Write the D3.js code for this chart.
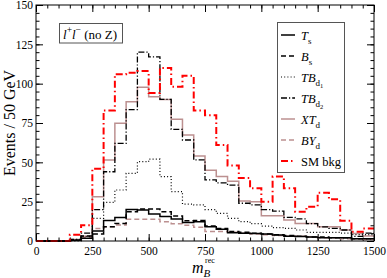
<!DOCTYPE html>
<html><head><meta charset="utf-8">
<script src="https://cdn.jsdelivr.net/npm/d3@7"></script>
<style>
body{margin:0;background:#fff;}
svg{display:block;}
svg text{font-family:"Liberation Serif","Times New Roman",serif;}
</style></head>
<body><svg id="c" width="387" height="278"></svg>
<script>
const binStarts = [0,50,100,150,200,250,300,350,400,450,500,550,600,650,700,750,800,850,900,950,1000,1050,1100,1150,1200,1250,1300,1350,1400,1450];
const binEnd = 1500;
const xTicks = [0,250,500,750,1000,1250,1500];
const yTicks = [0,25,50,75,100,125,150];

const Ts   = [0,0,0,0.5,1.7,6.4,13,15,20,19.7,17.2,15.5,14,11.7,12.3,9.1,7.4,5.3,5,4.8,4.4,3.8,3,2.8,2.5,2,2,2,1.5,1.5];
const Bs   = [0,0,0,0.5,3.2,4.5,9,11.2,18.6,20.3,20.3,18.6,15.9,12.9,13,9.5,8,6,5.5,5,4.5,4,3.5,3,2.5,2.5,2,2,1.5,1.5];
const TBd1 = [0,0,0,0,3,14.4,24.5,32.4,43,50.4,52,40.9,31.4,23.5,22.9,20,17.6,14.4,12.3,11,9.5,8.5,8,7,5.5,5.5,5.5,5,4,4];
const TBd2 = [0,0,0,1,5,20,44,62,83.5,120,117,90,71,64.2,51.5,38.8,37,35.5,24,23,20,19,15,14,11,9,8,7,3,5];
const XTd  = [0,0,0,1,3,28.2,51.5,74.8,88.5,97.7,91.7,90,77.4,67.4,54,45,41,38,25.5,25,16,16,13.3,11.2,11.2,9,9,7,4.8,3.2];
const BYd  = [0,0,0,0.5,2,8,9,10.2,13.8,13.8,13.8,12.3,11,10,8.7,6,6,5.5,5,4.5,4,3.5,3,3,2.5,2,2,1.5,1.5,1];
const SM   = [0,0,0,4,10,46,83,106,107,108,94,110,98,105,83,80,61,48,40,33.5,25,41,33.5,18.6,21.8,30.7,26.5,12.9,5.9,8];

const series = [
  {name:"Ts",   vals:Ts,   color:"#000", dash:null,       w:1.5, main:"T",  sub:"s"},
  {name:"Bs",   vals:Bs,   color:"#000", dash:"5,3",      w:1.5, main:"B",  sub:"s"},
  {name:"TBd1", vals:TBd1, color:"#000", dash:"1,2.2",    w:1.2, main:"TB", sub:"d", sub2:"1"},
  {name:"TBd2", vals:TBd2, color:"#000", dash:"6,2,1.2,2",w:1.3, main:"TB", sub:"d", sub2:"2"},
  {name:"XTd",  vals:XTd,  color:"#bc9090", dash:null,    w:1.5, main:"XT", sub:"d"},
  {name:"BYd",  vals:BYd,  color:"#bc9090", dash:"5,3",   w:1.5, main:"BY", sub:"d"},
  {name:"SM",   vals:SM,   color:"#ff0000", dash:"7,3,1.5,3", w:2, text:"SM bkg"}
];

const serif = '"Liberation Serif","Times New Roman",serif';
const svg = d3.select("#c");
const L=36, R=374, T=5, B=241;
const x = d3.scaleLinear().domain([0,1500]).range([L,R]);
const y = d3.scaleLinear().domain([0,150]).range([B,T]);

const minorX = d3.range(0,1501,50), minorY = d3.range(0,151,5);
function axisG(gen, tr){ return svg.append("g").attr("transform",tr).call(gen); }
const fmt = d3.format("d");
axisG(d3.axisBottom(x).tickValues(minorX).tickSize(-3.5).tickFormat(""), `translate(0,${B})`);
axisG(d3.axisTop(x).tickValues(minorX).tickSize(-3.5).tickFormat(""), `translate(0,${T})`);
axisG(d3.axisLeft(y).tickValues(minorY).tickSize(-3.5).tickFormat(""), `translate(${L},0)`);
axisG(d3.axisRight(y).tickValues(minorY).tickSize(-3.5).tickFormat(""), `translate(${R},0)`);
axisG(d3.axisBottom(x).tickValues(xTicks).tickSize(-7).tickPadding(6).tickFormat(fmt), `translate(0,${B})`);
axisG(d3.axisTop(x).tickValues(xTicks).tickSize(-7).tickFormat(""), `translate(0,${T})`);
axisG(d3.axisLeft(y).tickValues(yTicks).tickSize(-7).tickPadding(3).tickFormat(fmt), `translate(${L},0)`);
axisG(d3.axisRight(y).tickValues(yTicks).tickSize(-7).tickFormat(""), `translate(${R},0)`);
svg.selectAll(".domain").remove();
svg.selectAll("g").attr("font-family",serif);
svg.selectAll(".tick line").attr("stroke","#000").attr("stroke-width",1);
svg.selectAll(".tick text").attr("font-size",11.5).attr("fill","#000").style("font-family",serif);

const line = d3.line().x(d=>x(d[0])).y(d=>y(d[1])).curve(d3.curveStepAfter);
const order = ["XTd","BYd","TBd1","Bs","Ts","TBd2","SM"];
const byName = Object.fromEntries(series.map(s=>[s.name,s]));
order.forEach(n=>{
  const s = byName[n];
  const pts = binStarts.map((b,i)=>[b,s.vals[i]]);
  pts.push([binEnd, s.vals[s.vals.length-1]]);
  svg.append("path").attr("d",line(pts)).attr("fill","none")
    .attr("stroke",s.color).attr("stroke-width",s.w)
    .attr("stroke-dasharray",s.dash);
});

svg.append("rect").attr("x",L).attr("y",T).attr("width",R-L).attr("height",B-T)
  .attr("fill","none").attr("stroke","#000").attr("stroke-width",1);

const lg = svg.append("g");
lg.append("rect").attr("x",277.5).attr("y",22.5).attr("width",67).attr("height",150)
  .attr("fill","#fff").attr("stroke","#555").attr("stroke-width",1);
series.forEach((s,i)=>{
  const yy = 35 + i*21;
  lg.append("line").attr("x1",281).attr("x2",295).attr("y1",yy).attr("y2",yy)
    .attr("stroke",s.color).attr("stroke-width",s.w).attr("stroke-dasharray",s.dash);
  const t = lg.append("text").attr("x",301).attr("y",yy+4.5).attr("font-size",12.5).attr("fill","#000");
  if (s.text) { t.text(s.text); }
  else {
    t.append("tspan").attr("font-style","italic").text(s.main);
    t.append("tspan").attr("font-size",9).attr("dy",4).text(s.sub);
    if (s.sub2) t.append("tspan").attr("font-size",6.5).attr("dy",2.5).text(s.sub2);
  }
});

svg.append("rect").attr("x",59.5).attr("y",23.5).attr("width",63).attr("height",19.5)
  .attr("fill","#fff").attr("stroke","#555").attr("stroke-width",1);
const lt = svg.append("text").attr("x",63).attr("y",38.5).attr("font-size",13).attr("fill","#000");
lt.append("tspan").attr("font-style","italic").text("l");
lt.append("tspan").attr("font-size",9.5).attr("dy",-5.5).text("+");
lt.append("tspan").attr("font-style","italic").attr("dy",5.5).text("l");
lt.append("tspan").attr("font-size",9.5).attr("dy",-5.5).text("\u2212");
lt.append("tspan").attr("dy",5.5).text(" (no Z)");

svg.append("text").attr("transform","translate(15,123) rotate(-90)").attr("text-anchor","middle")
  .attr("font-size",16).attr("fill","#000").text("Events / 50 GeV");
const xt = svg.append("text").attr("x",192).attr("y",273).attr("font-size",16).attr("fill","#000");
xt.append("tspan").attr("font-style","italic").text("m");
xt.append("tspan").attr("font-style","italic").attr("font-size",11).attr("dy",3.5).text("B");
svg.append("text").attr("x",205).attr("y",263).attr("font-size",8).attr("fill","#000").text("rec");
</script></body></html>
